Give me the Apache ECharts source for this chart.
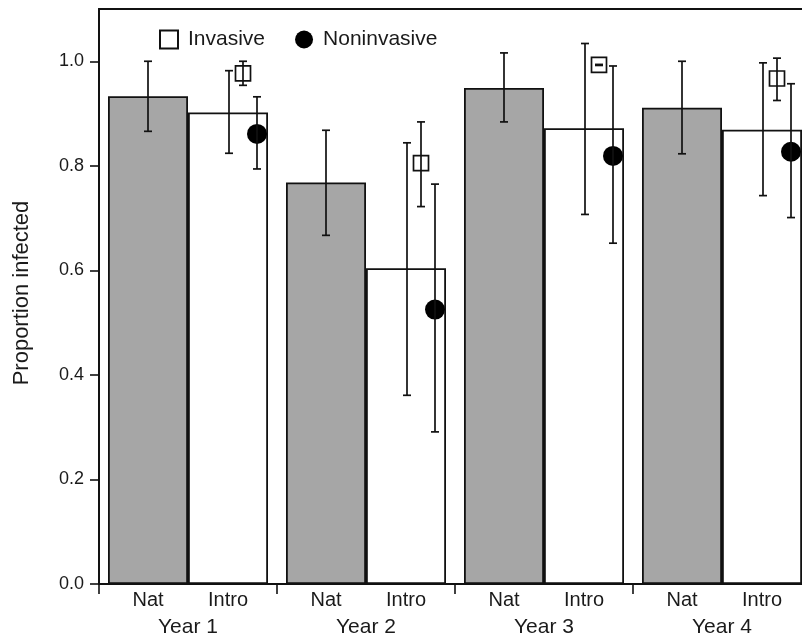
<!DOCTYPE html>
<html>
<head>
<meta charset="utf-8">
<script src="https://cdn.jsdelivr.net/npm/echarts@6.0.0/dist/echarts.min.js"></script>
<style>
  html, body { margin: 0; padding: 0; background: #fff; }
  #container { width: 802px; height: 641px; }
</style>
</head>
<body>
<div id="container"></div>
<script>
// data
const years = ["Year 1", "Year 2", "Year 3", "Year 4"];
const yTicks = [0, 0.2, 0.4, 0.6, 0.8, 1.0];

const natMean = [0.933, 0.768, 0.949, 0.911];
const natLow = [0.866, 0.667, 0.884, 0.823];
const natHigh = [1.0, 0.868, 1.016, 1.0];

const introMean = [0.902, 0.604, 0.872, 0.869];
const introLow = [0.824, 0.361, 0.707, 0.743];
const introHigh = [0.982, 0.844, 1.034, 0.997];

const invMean = [0.977, 0.805, 0.993, 0.967];
const invLow = [0.954, 0.722, 0.992, 0.925];
const invHigh = [1.0, 0.884, 0.994, 1.006];

const nonMean = [0.861, 0.525, 0.819, 0.827];
const nonLow = [0.794, 0.291, 0.652, 0.701];
const nonHigh = [0.932, 0.765, 0.991, 0.957];

const font = "Liberation Sans, Arial, Helvetica, sans-serif";

// error bar series, dx = pixel shift from the category centre
function errSeries(name, low, high, dx) {
  return {
    name: name,
    type: "custom",
    z: 5,
    silent: true,
    data: low.map(function (l, i) {
      return [i, l, high[i]];
    }),
    renderItem: function (params, api) {
      const lo = api.coord([api.value(0), api.value(1)]);
      const hi = api.coord([api.value(0), api.value(2)]);
      const x = lo[0] + dx,
        cap = 4;
      const style = { stroke: "#111", lineWidth: 1.7 };
      return {
        type: "group",
        children: [
          { type: "line", shape: { x1: x, y1: lo[1], x2: x, y2: hi[1] }, style: style },
          { type: "line", shape: { x1: x - cap, y1: lo[1], x2: x + cap, y2: lo[1] }, style: style },
          { type: "line", shape: { x1: x - cap, y1: hi[1], x2: x + cap, y2: hi[1] }, style: style }
        ]
      };
    }
  };
}

const myChart = echarts.init(document.getElementById("container"));
let option = {
  animation: false,
  backgroundColor: "#fff",
  textStyle: { fontFamily: font },
  grid: {
    left: 99,
    right: -9,
    top: 9,
    bottom: 57,
    outerBoundsMode: "none",
    containLabel: false,
    show: true,
    borderColor: "#111",
    borderWidth: 1.8
  },
  legend: {
    left: 154,
    top: 24,
    itemWidth: 18,
    itemHeight: 18,
    itemGap: 30,
    textStyle: { fontFamily: font, fontSize: 21, color: "#1a1a1a", padding: [0, 0, 0, 5] },
    data: [
      { name: "Invasive", icon: "rect" },
      { name: "Noninvasive", icon: "circle" }
    ]
  },
  graphic: [
    {
      type: "text",
      x: 22,
      y: 293,
      rotation: Math.PI / 2,
      style: {
        text: "Proportion infected",
        fontFamily: font,
        fontSize: 22,
        fill: "#1a1a1a",
        align: "center",
        verticalAlign: "middle"
      }
    }
  ],
  xAxis: {
    type: "category",
    data: years,
    boundaryGap: true,
    axisLine: { lineStyle: { color: "#111", width: 1.8 } },
    axisTick: { show: true, inside: false, length: 10, lineStyle: { color: "#111", width: 1.6 } },
    axisLabel: {
      margin: 3,
      interval: 0,
      formatter: function (v) {
        return "{a|Nat}{b|Intro}\n{y|" + v + "}";
      },
      rich: {
        a: { width: 80, align: "center", fontSize: 20, lineHeight: 26, color: "#1a1a1a", fontFamily: font },
        b: { width: 80, align: "center", fontSize: 20, lineHeight: 26, color: "#1a1a1a", fontFamily: font },
        y: { fontSize: 21, lineHeight: 28, color: "#1a1a1a", fontFamily: font }
      }
    },
    splitLine: { show: false }
  },
  yAxis: {
    type: "value",
    min: 0,
    max: 1.1,
    interval: 0.2,
    axisLine: { show: true, lineStyle: { color: "#111", width: 1.8 } },
    axisTick: {
      show: true,
      length: 9,
      customValues: yTicks,
      lineStyle: { color: "#111", width: 1.6 }
    },
    axisLabel: {
      margin: 15,
      fontSize: 18,
      color: "#1a1a1a",
      fontFamily: font,
      customValues: yTicks,
      formatter: function (v) {
        return v.toFixed(1);
      }
    },
    splitLine: { show: false }
  },
  series: [
    {
      name: "Nat",
      type: "bar",
      barWidth: 80,
      barGap: 0,
      itemStyle: { color: "#a6a6a6", borderColor: "#111", borderWidth: 1.8 },
      data: natMean
    },
    {
      name: "Intro",
      type: "bar",
      barWidth: 80,
      barGap: 0,
      itemStyle: { color: "#fff", borderColor: "#111", borderWidth: 1.8 },
      data: introMean
    },
    errSeries("Nat err", natLow, natHigh, -40),
    errSeries("Intro err", introLow, introHigh, 41),
    {
      name: "Invasive",
      type: "scatter",
      z: 4,
      symbol: "rect",
      symbolSize: 15,
      symbolOffset: [55, 0],
      itemStyle: { color: "#fff", borderColor: "#111", borderWidth: 1.7, opacity: 1 },
      data: invMean
    },
    errSeries("Invasive err", invLow, invHigh, 55),
    {
      name: "Noninvasive",
      type: "scatter",
      z: 4,
      symbol: "circle",
      symbolSize: 20,
      symbolOffset: [69, 0],
      itemStyle: { color: "#000", opacity: 1 },
      data: nonMean
    },
    errSeries("Noninvasive err", nonLow, nonHigh, 69)
  ]
};
if (option && typeof option === "object") {
  myChart.setOption(option);
}
</script>
</body>
</html>
